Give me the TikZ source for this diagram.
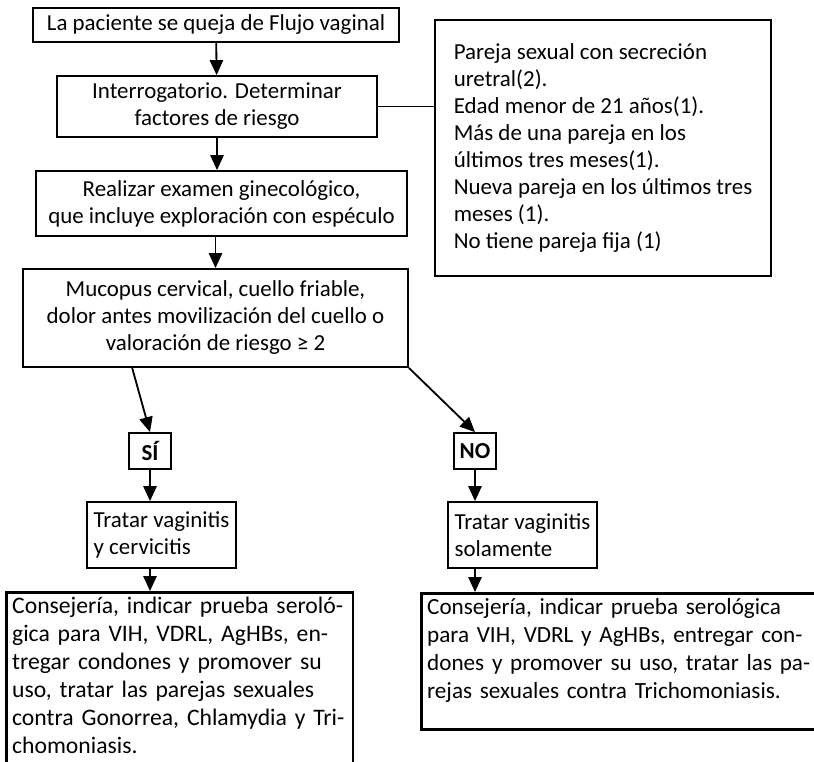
\documentclass[tikz,border=0pt]{standalone}
\usepackage{fontspec}
\setmainfont{Carlito}
\usetikzlibrary{arrows.meta,positioning}

\begin{document}
\begin{tikzpicture}[x=0.6pt,y=-0.6pt,
		box/.style={draw,line width=1.1pt,inner sep=2pt,align=center,
			font=\fontsize{13.75}{16.2}\selectfont},
		listbox/.style={box,align=left},
		answer/.style={box,font=\fontsize{13.75}{16.2}\selectfont\bfseries},
		bigbox/.style={box,line width=1.6pt,align=left,anchor=north west,
			inner xsep=3.5pt,inner ysep=3pt,font=\fontsize{14.2}{16.8}\selectfont},
		>={Triangle[length=9pt,width=8pt]},line width=1.1pt]
	\useasboundingbox (0,0) rectangle (814,761);
	\clip (0,0) rectangle (814,761);
	% main column
	\node[box,minimum width=219.6pt,minimum height=20.4pt] (flujo) at (216,25)
		{La paciente se queja de Flujo vaginal};
	\node[box,minimum width=192pt,minimum height=36.6pt] (interrog) at (217,106.5)
		{Interrogatorio. Determinar\\factores de riesgo};
	\node[box,minimum width=222.6pt,minimum height=39pt] (examen) at (221.5,203.5)
		{Realizar examen ginecológico,\\que incluye exploración con espéculo};
	\node[listbox,minimum width=201.6pt,minimum height=153.6pt] (factores) at (603,148)
		{Pareja sexual con secreción\\uretral(2).\\Edad menor de 21 años(1).\\
		 Más de una pareja en los\\últimos tres meses(1).\\
		 Nueva pareja en los últimos tres\\meses (1).\\No tiene pareja fija (1)};
	\node[box,minimum width=231pt,minimum height=58.8pt] (mucopus) at (215.5,318)
		{Mucopus cervical, cuello friable,\\dolor antes movilización del cuello o\\
		 valoración de riesgo ≥ 2};
	% branches
	\node[answer,minimum width=25.2pt,minimum height=21.6pt] (si) at (150,451) {SÍ};
	\node[answer,minimum width=25.2pt,minimum height=21.6pt] (no) at (475,451) {NO};
	\node[listbox,minimum width=89.4pt,minimum height=39.6pt] (tratarsi) at (161.5,535)
		{Tratar vaginitis\\y cervicitis};
	\node[listbox,minimum width=89.4pt,minimum height=39.6pt] (tratarno) at (522.5,535)
		{Tratar vaginitis\\solamente};
	\node[bigbox,text width=201pt,text depth=92pt] (consejsi) at (5,591)
		{Consejería, indicar prueba seroló-\\gica para VIH, VDRL, AgHBs, en-\\
		 tregar condones y promover su\\uso, tratar las parejas sexuales\\
		 contra Gonorrea, Chlamydia y Tri-\\chomoniasis.};
	\node[bigbox,text width=244pt,text depth=66pt,font=\fontsize{13.9}{16.8}\selectfont]
		(consejno) at (420,592)
		{Consejería, indicar prueba serológica\\para VIH, VDRL y AgHBs, entregar con-\\
		 dones y promover su uso, tratar las pa-\\rejas sexuales contra Trichomoniasis.};
	% connectors
	\draw[->] (flujo) -- (interrog);
	\draw[->] (interrog.south) -- (interrog.south |- examen.north);
	\draw[->] (mucopus.north |- examen.south) -- (mucopus.north);
	\draw[line width=.9pt] (interrog.east) -- (interrog.east -| factores.west);
	\draw[->] ([xshift=-50pt]mucopus.south) -- (si.north);
	\draw[->] (mucopus.south east) -- (no.north);
	\draw[->] (si.south) -- (si.south |- tratarsi.north);
	\draw[->] (no.south) -- (no.south |- tratarno.north);
	\draw[->] (si.south |- tratarsi.south) -- (si.south |- consejsi.north);
	\draw[->] (no.south |- tratarno.south) -- (no.south |- consejno.north);
\end{tikzpicture}
\end{document}
